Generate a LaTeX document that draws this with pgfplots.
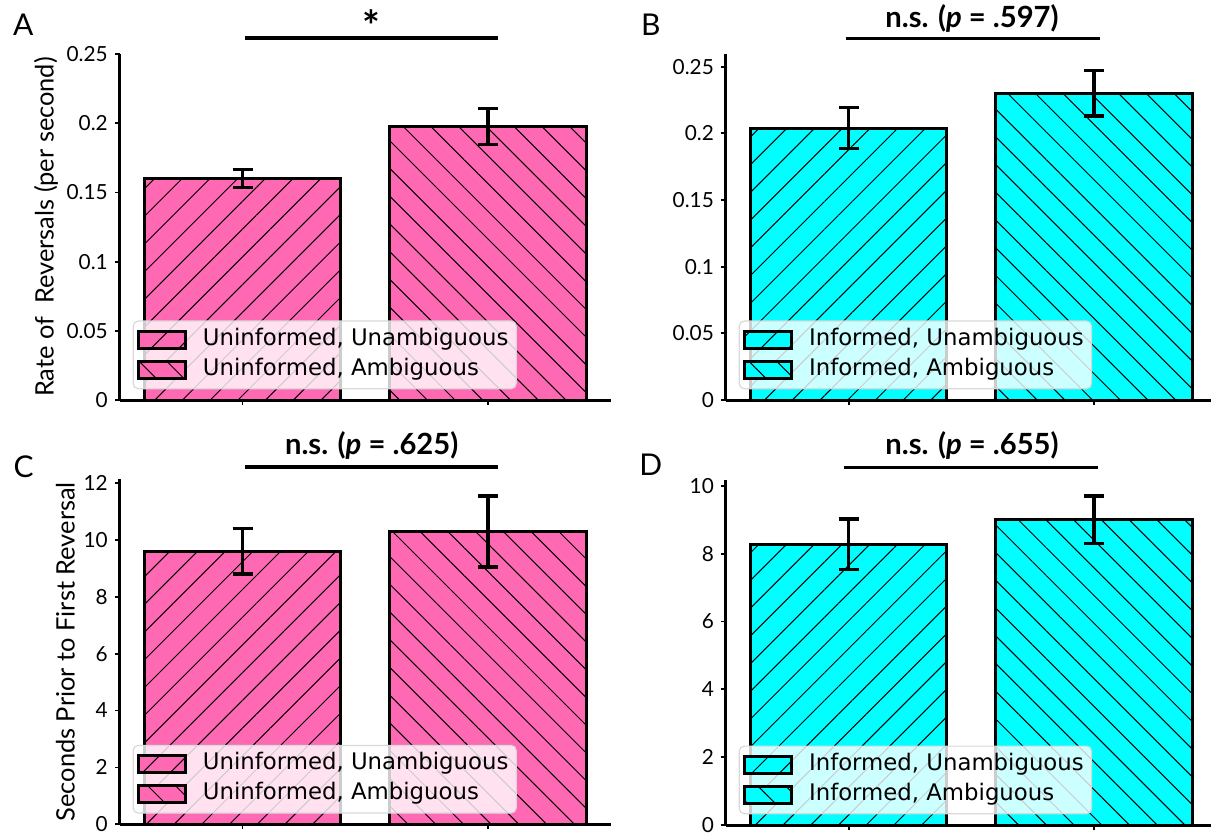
\documentclass[border=0pt]{standalone}
\usepackage{pgfplots}
\pgfplotsset{compat=1.18}
\usepackage{fontspec}
\setmainfont{Lato}
\newfontfamily\legendfont{DejaVu Sans}
\usetikzlibrary{patterns.meta}

\definecolor{barpink}{HTML}{FF69B4}
\definecolor{barcyan}{HTML}{00FFFF}

\pgfplotsset{
  panel/.style={
    scale only axis, width=245.5pt, height=173pt,
    xmin=-0.5, xmax=1.5, ymin=0,
    axis x line=bottom, axis y line=left,
    axis line style={line width=1.5pt, -},
    xtick={0,1}, xticklabels={},
    tick align=outside, major tick length=2.5pt,
    every tick/.style={black, line width=0.9pt},
    tick label style={font=\fontsize{10.4}{12}\selectfont},
    /pgf/number format/assume math mode=true,
    yticklabel style={/pgf/number format/fixed, /pgf/number format/precision=2},
    ylabel style={font=\fontsize{12.7}{15}\selectfont, yshift=-2.5pt},
    clip=false,
    legend style={
      at={(0.026,0.031)}, anchor=south west,
      font=\legendfont\fontsize{11.4}{13.6}\selectfont,
      fill=white, fill opacity=0.8, text opacity=1, draw opacity=1,
      draw=black!15, line width=0.6pt, rounded corners=2.5pt,
      inner sep=1.9pt,
      nodes={inner xsep=2pt, inner ysep=1.5pt, text height=8.6pt, text depth=3.4pt},
    },
    legend cell align=left,
    legend image code/.code={
      \draw[#1, sharp corners, fill opacity=1, line width=1.5pt] (0pt,-4.2pt) rectangle (23.5pt,4.2pt);
      \path (29.5pt,0pt);
    },
  },
  hatchbar/.style n args={2}{
    ybar, bar width=0.8, bar shift=0pt,
    fill=#1, draw=black, line width=1.5pt,
    postaction={pattern={Lines[angle=#2, distance=9.8pt, line width=0.5pt]}, pattern color=black},
    error bars/.cd, y dir=both, y explicit,
    error bar style={line width=1.7pt, black},
    error mark options={rotate=90, mark size=5pt, line width=1.7pt, black},
  },
}

\newcommand{\sigtext}{\fontsize{14.6}{18}\selectfont\bfseries}
\newcommand{\panelfont}{\fontsize{15}{17}\selectfont}

\begin{document}
\begin{tikzpicture}
\path[use as bounding box] (0,0) rectangle (605.5pt,416pt);

% Panel A: rate of reversals, uninformed observers
\begin{axis}[panel, at={(59.9pt,216pt)}, anchor=south west,
    ymax=0.25, ytick={0,0.05,0.1,0.15,0.2,0.25},
    ylabel={Rate of \ Reversals (per second)}]
  \addplot[hatchbar={barpink}{45}] coordinates {(0,0.1600) +- (0,0.0064)};
  \addlegendentry{Uninformed, Unambiguous}
  \addplot[hatchbar={barpink}{-45}] coordinates {(1,0.1975) +- (0,0.0130)};
  \addlegendentry{Uninformed, Ambiguous}
\end{axis}

% Panel B: rate of reversals, informed observers
\begin{axis}[panel, at={(362.95pt,216pt)}, anchor=south west,
    height=172.85pt, ymax=0.2593, ytick={0,0.05,0.1,0.15,0.2,0.25}]
  \addplot[hatchbar={barcyan}{45}] coordinates {(0,0.2040) +- (0,0.0155)};
  \addlegendentry{Informed, Unambiguous}
  \addplot[hatchbar={barcyan}{-45}] coordinates {(1,0.2300) +- (0,0.0170)};
  \addlegendentry{Informed, Ambiguous}
\end{axis}

% Panel C: latency of the first reversal, uninformed observers
\begin{axis}[panel, at={(59.9pt,3.85pt)}, anchor=south west,
    height=172.5pt, ymax=12.13, ytick={0,2,...,12},
    ylabel={Seconds Prior to First Reversal}]
  \addplot[hatchbar={barpink}{45}] coordinates {(0,9.60) +- (0,0.80)};
  \addlegendentry{Uninformed, Unambiguous}
  \addplot[hatchbar={barpink}{-45}] coordinates {(1,10.29) +- (0,1.25)};
  \addlegendentry{Uninformed, Ambiguous}
\end{axis}

% Panel D: latency of the first reversal, informed observers
\begin{axis}[panel, at={(362.95pt,3.5pt)}, anchor=south west,
    height=172.5pt, ymax=10.17, ytick={0,2,...,10}]
  \addplot[hatchbar={barcyan}{45}] coordinates {(0,8.28) +- (0,0.74)};
  \addlegendentry{Informed, Unambiguous}
  \addplot[hatchbar={barcyan}{-45}] coordinates {(1,9.00) +- (0,0.70)};
  \addlegendentry{Informed, Ambiguous}
\end{axis}

% significance brackets
\draw[line width=1.8pt] (122.5pt,396.85pt) -- (249pt,396.85pt);
\node[font=\fontsize{21}{24}\selectfont\bfseries] at (185.85pt,403pt) {*};
\draw[line width=1.8pt] (422.75pt,396.65pt) -- (550pt,396.65pt);
\node[font=\sigtext] at (486pt,407pt) {n.s. (\textit{p} = .597)};
\draw[line width=1.8pt] (122.5pt,182.65pt) -- (249pt,182.65pt);
\node[font=\sigtext] at (185.85pt,193.5pt) {n.s. (\textit{p} = .625)};
\draw[line width=1.8pt] (421.8pt,182.35pt) -- (549pt,182.35pt);
\node[font=\sigtext] at (486pt,193.5pt) {n.s. (\textit{p} = .655)};

% panel letters
\node[font=\panelfont] at (11.65pt,403.5pt) {A};
\node[font=\panelfont] at (325.35pt,403.5pt) {B};
\node[font=\panelfont] at (11.85pt,182.65pt) {C};
\node[font=\panelfont] at (325.35pt,183.5pt) {D};
\end{tikzpicture}
\end{document}
